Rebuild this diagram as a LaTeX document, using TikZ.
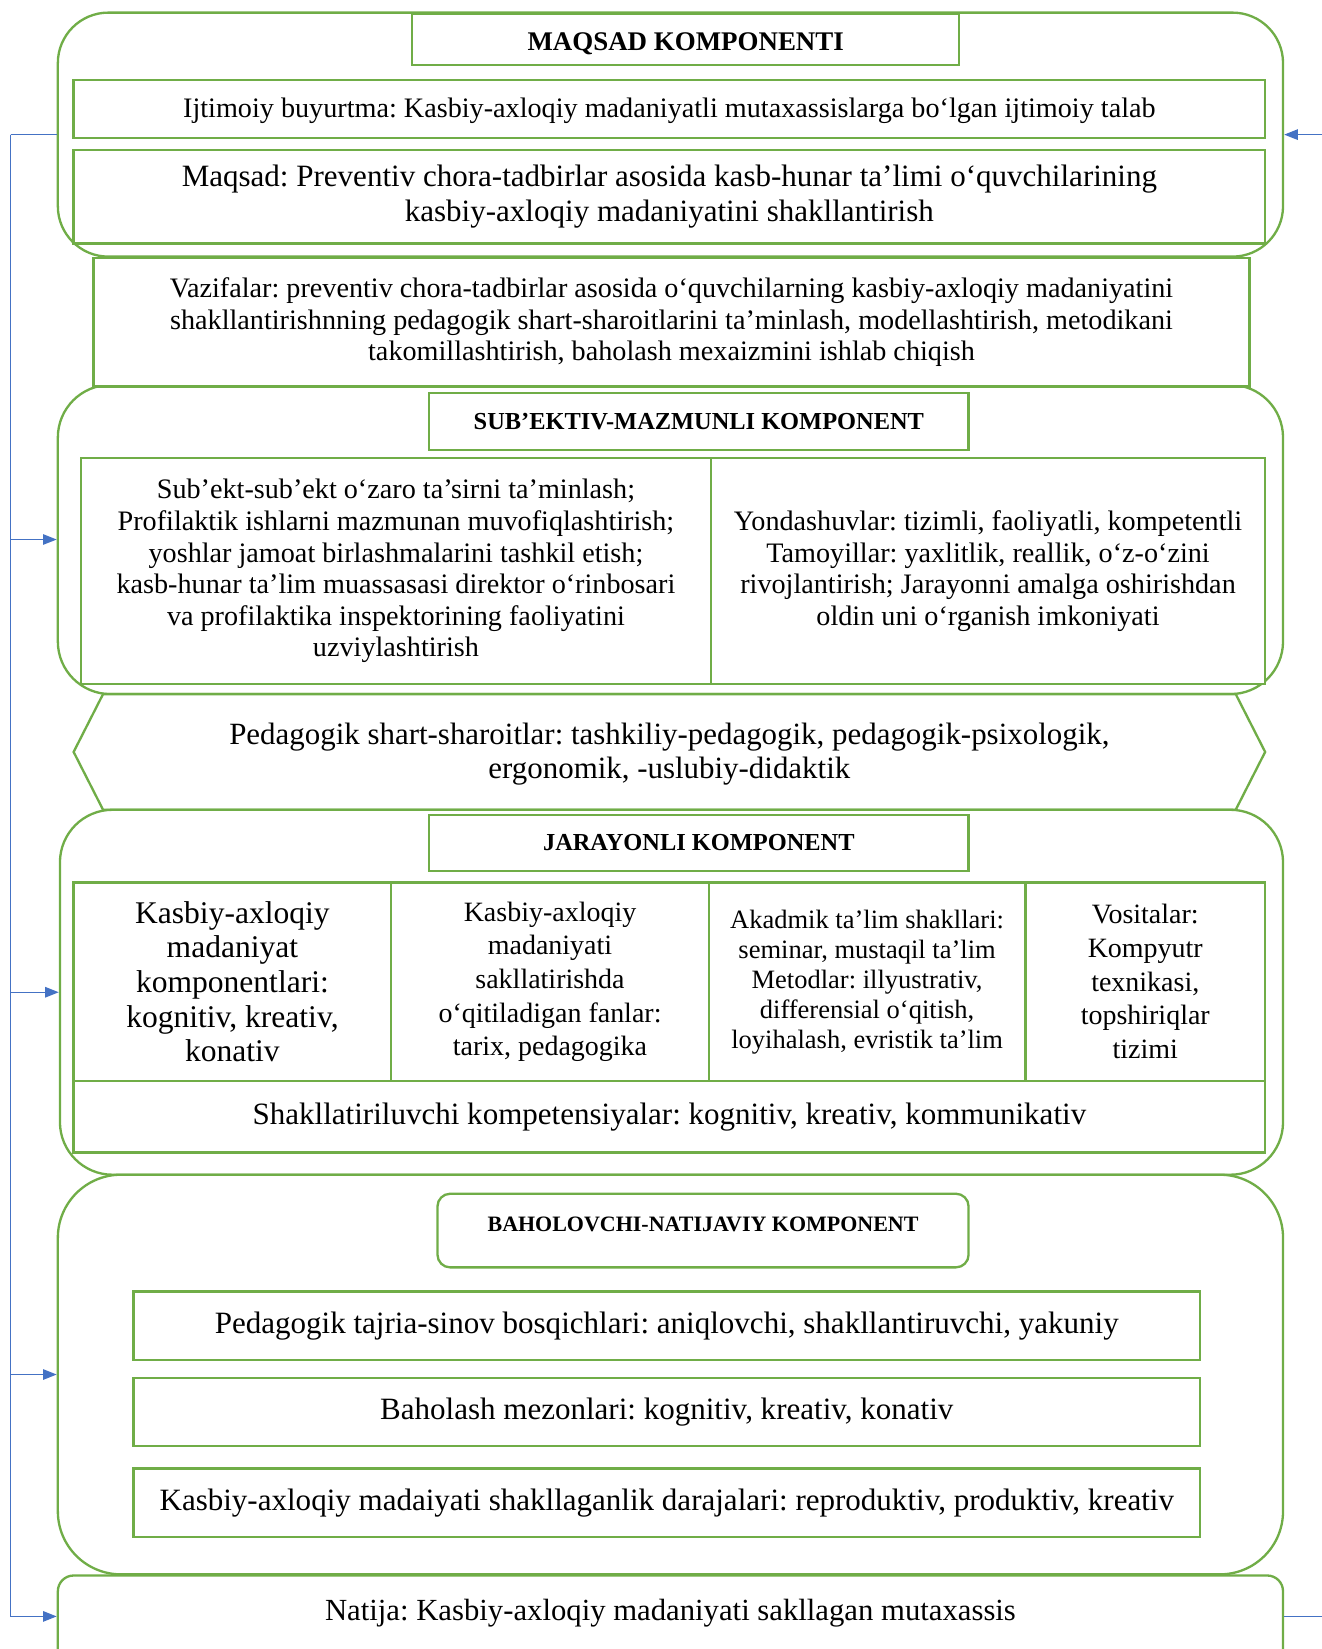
\documentclass[tikz,border=0pt]{standalone}
\usepackage{fontspec}
\setmainfont{Liberation Serif}
\frenchspacing
\usepackage{tikz}
\usetikzlibrary{shapes.geometric, arrows.meta, positioning}
\definecolor{boxgreen}{RGB}{112,173,71}
\definecolor{linkblue}{RGB}{68,114,196}
\tikzstyle{frame} = [rectangle, rounded corners=48pt, draw=boxgreen, line width=2.2pt, fill=white, inner sep=0pt]
\tikzstyle{title} = [rectangle, draw=boxgreen, line width=2.2pt, fill=white, inner sep=0pt, font=\bfseries\fontsize{23.2}{27}\selectfont]
\tikzstyle{cell} = [rectangle, draw=boxgreen, line width=2.2pt, fill=white, inner sep=0pt, align=center, font=\fontsize{26.8}{30}\selectfont]
\tikzstyle{bigcell} = [cell, font=\fontsize{29.5}{33}\selectfont]
\tikzstyle{arrow} = [draw=linkblue, line width=1.2pt, -{Triangle[length=13pt,width=10pt]}]
\tikzstyle{link} = [draw=linkblue, line width=1.2pt]

\begin{document}
\begin{tikzpicture}[x=1pt, y=-1pt]
		\useasboundingbox (0,0) rectangle (1257,1568);
		
		% outer frames
		\node (maqsadC) [frame, minimum width=1165pt, minimum height=232pt] at (637.5,128) {};
		\node (subC) [frame, rounded corners=50pt, minimum width=1165pt, minimum height=294pt] at (637.5,513) {};
		\draw [draw=boxgreen, line width=2.2pt, fill=white] (98,660) -- (1175,660) -- (1203,715) -- (1175,770) -- (98,770) -- (70,715) -- cycle;
		\node (jarC) [frame, rounded corners=50pt, minimum width=1163pt, minimum height=347pt] at (638.5,943.5) {};
		\node (bahC) [frame, rounded corners=60pt, minimum width=1165pt, minimum height=380pt] at (637.5,1307) {};
		\node (natija) [frame, rounded corners=15pt, minimum width=1165pt, text height=43pt, text depth=50pt, anchor=north, font=\fontsize{29.2}{33}\selectfont] at (637.5,1497) {Natija: Kasbiy-axloqiy madaniyati sakllagan mutaxassis};
		
		% maqsad
		\node (maqsadH) [title, minimum width=520pt, text height=35pt, text depth=14pt, anchor=north, font=\bfseries\fontsize{25.6}{30}\selectfont] at (652,12) {MAQSAD KOMPONENTI};
		\node (ijtimoiy) [cell, minimum width=1133pt, text height=36pt, text depth=19pt, anchor=north] at (636.5,75) {Ijtimoiy buyurtma: Kasbiy-axloqiy madaniyatli mutaxassislarga bo‘lgan ijtimoiy talab};
		\node (maqsad) [bigcell, minimum width=1133pt, minimum height=89pt] at (636.5,187) {Maqsad: Preventiv chora-tadbirlar asosida kasb-hunar ta’limi o‘quvchilarining\\kasbiy-axloqiy madaniyatini shakllantirish};
		\node (vazifa) [cell, minimum width=1099pt, minimum height=122pt] at (638.5,306.5) {Vazifalar: preventiv chora-tadbirlar asosida o‘quvchilarning kasbiy-axloqiy madaniyatini\\shakllantirishnning pedagogik shart-sharoitlarini ta’minlash, modellashtirish, metodikani\\takomillashtirish, baholash mexaizmini ishlab chiqish};
		
		% sub'ektiv
		\node (subH) [title, minimum width=513pt, minimum height=54pt] at (664.5,401) {SUB’EKTIV-MAZMUNLI KOMPONENT};
		\node (subL) [cell, minimum width=599pt, minimum height=215pt] at (376.5,543) {Sub’ekt-sub’ekt o‘zaro ta’sirni ta’minlash;\\Profilaktik ishlarni mazmunan muvofiqlashtirish;\\yoshlar jamoat birlashmalarini tashkil etish;\\kasb-hunar ta’lim muassasasi direktor o‘rinbosari\\va profilaktika inspektorining faoliyatini\\uzviylashtirish};
		\node (subR) [cell, minimum width=527pt, minimum height=215pt] at (939.5,543) {Yondashuvlar: tizimli, faoliyatli, kompetentli\\Tamoyillar: yaxlitlik, reallik, o‘z-o‘zini\\rivojlantirish; Jarayonni amalga oshirishdan\\oldin uni o‘rganish imkoniyati};
		\node (pedag) [align=center, font=\fontsize{29.4}{33}\selectfont] at (636.5,717) {Pedagogik shart-sharoitlar: tashkiliy-pedagogik, pedagogik-psixologik,\\ergonomik, -uslubiy-didaktik};
		
		% jarayonli
		\node (jarH) [title, minimum width=513pt, minimum height=53pt] at (664.5,801.5) {JARAYONLI KOMPONENT};
		\node (cellA) [bigcell, minimum width=302pt, minimum height=189pt, font=\fontsize{30}{33}\selectfont] at (221,933.5) {Kasbiy-axloqiy\\madaniyat\\komponentlari:\\kognitiv, kreativ,\\konativ};
		\node (cellB) [cell, minimum width=302pt, minimum height=189pt, font=\fontsize{26.6}{32}\selectfont] at (523,933.5) {Kasbiy-axloqiy\\madaniyati\\sakllatirishda\\o‘qitiladigan fanlar:\\tarix, pedagogika};
		\node (cellC) [cell, minimum width=301pt, minimum height=189pt, font=\fontsize{25.2}{28.5}\selectfont] at (824.5,933.5) {Akadmik ta’lim shakllari:\\seminar, mustaqil ta’lim\\Metodlar: illyustrativ,\\differensial o‘qitish,\\loyihalash, evristik ta’lim};
		\node (cellD) [cell, minimum width=228pt, minimum height=189pt, font=\fontsize{26.6}{32}\selectfont] at (1089,933.5) {Vositalar:\\Kompyutr\\texnikasi,\\topshiriqlar\\tizimi};
		\node (shakl) [bigcell, minimum width=1133pt, minimum height=68pt] at (636.5,1062) {Shakllatiriluvchi kompetensiyalar: kognitiv, kreativ, kommunikativ};
		
		% baholovchi
		\node (bahH) [title, rounded corners=12pt, minimum width=505pt, text height=36pt, text depth=34pt, anchor=north, font=\bfseries\fontsize{20.9}{24}\selectfont] at (668.5,1134) {BAHOLOVCHI-NATIJAVIY KOMPONENT};
		\node (bosq) [bigcell, minimum width=1014pt, minimum height=65pt] at (634,1260.5) {Pedagogik tajria-sinov bosqichlari: aniqlovchi, shakllantiruvchi, yakuniy};
		\node (mezon) [bigcell, minimum width=1014pt, minimum height=65pt, below=15pt of bosq] {Baholash mezonlari: kognitiv, kreativ, konativ};
		\node (daraja) [bigcell, minimum width=1014pt, minimum height=65pt, below=19pt of mezon] {Kasbiy-axloqiy madaiyati shakllaganlik darajalari: reproduktiv, produktiv, kreativ};
		
		% feedback links
		\coordinate (bus) at (10,128);
		\coordinate (rtop) at (1257,128);
		\coordinate (rbot) at (1257,1537);
		\draw [link] (maqsadC.west) -- (bus);
		\draw [arrow] (bus) |- (subC.west);
		\draw [arrow] (bus) |- (jarC.west);
		\draw [arrow] (bus) |- (bahC.west);
		\draw [arrow] (bus) |- ([yshift=-40pt]natija.north west);
		\draw [link] ([yshift=-40pt]natija.north east) -- (rbot);
		\draw [arrow] (rtop) -- (maqsadC.east);
		
		\end{tikzpicture}
\end{document}
